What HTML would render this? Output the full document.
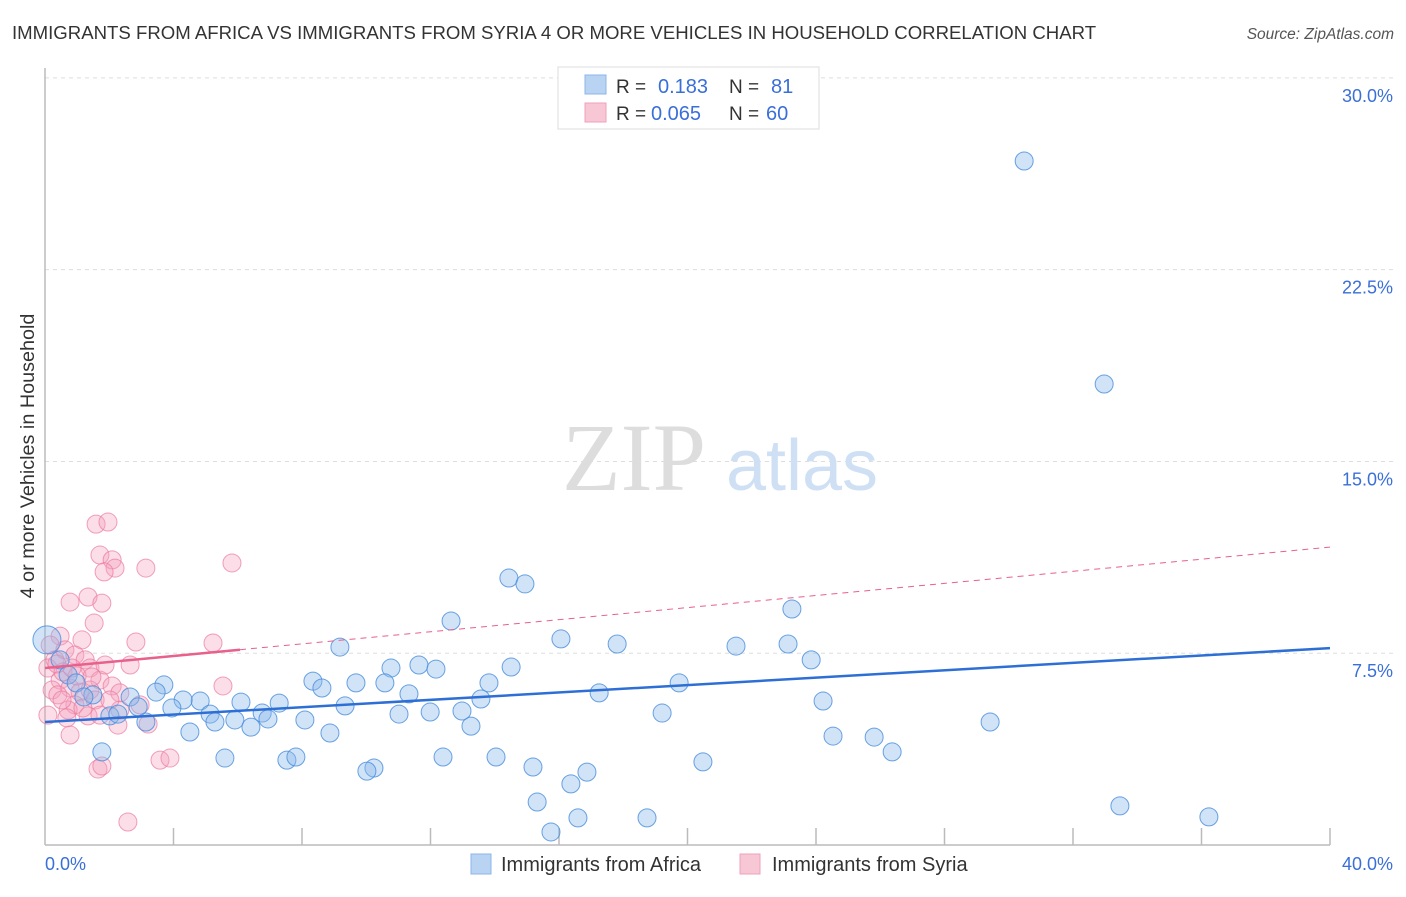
<!DOCTYPE html>
<html><head><meta charset="utf-8"><style>
body{margin:0;background:#fff;font-family:"Liberation Sans",sans-serif;}
svg text{font-family:"Liberation Sans",sans-serif;}
</style></head><body>
<svg id="chart" width="1406" height="892" xmlns="http://www.w3.org/2000/svg">
<text x="12" y="39" font-size="18.6" fill="#333">IMMIGRANTS FROM AFRICA VS IMMIGRANTS FROM SYRIA 4 OR MORE VEHICLES IN HOUSEHOLD CORRELATION CHART</text>
<text x="1394" y="39" font-size="15.5" fill="#555" font-style="italic" text-anchor="end">Source: ZipAtlas.com</text>
<g id="grid"></g>
<g>
<text x="634" y="490" font-size="96" fill="#ddd" style="font-family:'Liberation Serif',serif" text-anchor="middle">ZIP</text>
<text x="802" y="490" font-size="72" fill="#cfe0f5" text-anchor="middle">atlas</text>
</g>
<text transform="translate(34,456) rotate(-90)" font-size="19.8" fill="#333" text-anchor="middle">4 or more Vehicles in Household</text>
<g id="marks"></g>
<g>
<rect x="558" y="67" width="261" height="62" fill="#fff" stroke="#ddd"/>
<rect x="585" y="75" width="21" height="19" fill="#b9d3f3" stroke="#8cb4e8"/>
<rect x="585" y="103" width="21" height="19" fill="#f8c7d6" stroke="#f0a0bb"/>
<text x="616" y="93" font-size="19" fill="#333">R = </text><text x="658" y="93" font-size="20" fill="#3a6fd8">0.183</text>
<text x="729" y="93" font-size="19" fill="#333">N = </text><text x="771" y="93" font-size="20" fill="#3a6fd8">81</text>
<text x="616" y="120" font-size="19" fill="#333">R = </text><text x="651" y="120" font-size="20" fill="#3a6fd8">0.065</text>
<text x="729" y="120" font-size="19" fill="#333">N = </text><text x="766" y="120" font-size="20" fill="#3a6fd8">60</text>
</g>
<g>
<rect x="471" y="854" width="20" height="20" fill="#b9d3f3" stroke="#8cb4e8"/>
<text x="501" y="871" font-size="20" fill="#333">Immigrants from Africa</text>
<rect x="740" y="854" width="20" height="20" fill="#f8c7d6" stroke="#f0a0bb"/>
<text x="772" y="871" font-size="20" fill="#333">Immigrants from Syria</text>
</g>
</svg>
<script>
const yTicks=[7.5,15,22.5,30];
const yTickLabels=["7.5%","15.0%","22.5%","30.0%"];
const xTicks=[0,4,8,12,16,20,24,28,32,36,40];
const africaX=[30.48,32.97,14.44,14.94,23.25,12.64,16.06,17.81,21.51,23.13,9.18,23.85,14.51,11.64,10.77,12.17,8.34,9.68,10.58,13.82,19.74,3.70,8.62,11.33,17.25,3.46,13.57,4.83,6.10,7.29,4.30,2.65,1.49,9.34,24.22,3.95,5.14,6.76,11.99,12.98,11.02,19.21,8.09,5.91,5.29,6.94,3.14,29.42,13.26,4.51,6.41,8.87,24.53,25.81,26.37,1.77,5.60,7.53,7.81,12.39,14.04,20.48,15.19,10.24,10.02,16.87,16.37,15.32,33.46,15.75,16.59,18.74,36.23,0.06,0.47,0.72,0.97,1.21,2.02,2.27,2.90];
const africaY=[26.75,18.03,10.44,10.21,9.23,8.76,8.06,7.86,7.78,7.86,7.74,7.24,6.96,7.04,6.92,6.88,6.41,6.34,6.34,6.34,6.34,6.26,6.14,5.91,5.95,5.98,5.71,5.63,5.59,5.55,5.67,5.79,5.87,5.44,5.63,5.36,5.12,5.16,5.20,5.24,5.12,5.16,4.89,4.89,4.81,4.93,4.81,4.81,4.65,4.42,4.61,4.38,4.26,4.22,3.64,3.64,3.40,3.32,3.44,3.44,3.44,3.25,3.05,3.01,2.89,2.85,2.39,1.68,1.53,0.51,1.06,1.06,1.10,8.02,7.24,6.65,6.34,5.79,5.05,5.12,5.40];
const syriaX=[1.59,1.96,1.71,2.09,2.18,1.84,3.14,5.82,0.78,1.34,1.77,1.53,1.15,2.83,5.23,0.47,0.16,0.31,0.62,0.93,1.25,1.40,1.71,2.09,0.47,0.78,1.09,1.40,1.56,0.93,0.72,0.09,1.34,2.27,3.21,0.09,0.22,0.56,1.87,5.54,2.65,2.33,1.18,0.78,1.65,1.77,3.58,3.89,2.58,2.33,1.00,0.37,0.68,1.71,2.96,2.02,0.40,0.84,1.46,0.53];
const syriaY=[12.55,12.63,11.34,11.15,10.83,10.68,10.83,11.03,9.50,9.70,9.46,8.68,8.02,7.94,7.90,8.17,7.82,7.24,7.63,7.43,7.24,6.92,6.45,6.22,6.45,6.14,5.98,6.06,5.67,5.48,5.28,5.08,5.05,4.69,4.73,6.92,6.06,6.77,7.04,6.22,7.04,5.95,5.36,4.30,2.97,3.09,3.32,3.40,0.90,5.28,6.61,7.08,4.97,5.08,5.48,5.67,5.87,6.92,6.57,5.67];
const africaTrend=[4.81,7.70];
const syriaTrend=[6.92,11.65];
const syriaSolidEnd=6.07;
const X0=45,X1=1330,Y0=845,PXY=25.57;
const sx=v=>X0+(X1-X0)*v/40;
const sy=v=>Y0-v*PXY;
const NS="http://www.w3.org/2000/svg";
function mk(tag,attrs,parent){const e=document.createElementNS(NS,tag);for(const k in attrs)e.setAttribute(k,attrs[k]);parent.appendChild(e);return e;}
const grid=document.getElementById('grid');
yTicks.forEach((t,i)=>{
 const l=mk('line',{x1:X0,x2:1393,y1:sy(t),y2:sy(t),stroke:'#ddd','stroke-dasharray':'4,4'},grid);
 
 
 const tx=mk('text',{x:1393,y:sy(t)+24,'font-size':18,fill:'#3a6fd8','text-anchor':'end'},grid);
 tx.textContent=yTickLabels[i];
 
 
});
const ax=mk('line',{x1:X0,x2:X0,y1:68,y2:Y0,stroke:'#bbb','stroke-width':1.5},grid);


const bx=mk('line',{x1:X0,x2:X1,y1:Y0,y2:Y0,stroke:'#bbb','stroke-width':1.5},grid);


xTicks.slice(1).forEach(t=>{
 const l=mk('line',{x1:sx(t),x2:sx(t),y1:Y0-17,y2:Y0,stroke:'#bbb','stroke-width':1.5},grid);
 
 
});
const xl0=mk('text',{x:X0,y:870,'font-size':18,fill:'#3a6fd8'},grid);xl0.textContent=xTicks[0].toFixed(1)+'%';


const xl1=mk('text',{x:1393,y:870,'font-size':18,fill:'#3a6fd8','text-anchor':'end'},grid);xl1.textContent=xTicks[xTicks.length-1].toFixed(1)+'%';


const marks=document.getElementById('marks');
syriaX.forEach((x,i)=>{
 const c=mk('circle',{cx:sx(x),cy:sy(syriaY[i]),r:9,fill:'rgba(244,160,190,0.35)',stroke:'rgba(236,120,160,0.7)','stroke-width':1},marks);
 
 
});
africaX.forEach((x,i)=>{
 const c=mk('circle',{cx:sx(x),cy:sy(africaY[i]),r:(i===73?14:9),fill:'rgba(140,185,235,0.4)',stroke:'rgba(70,140,220,0.8)','stroke-width':1},marks);
 
 
});
const at=mk('line',{x1:sx(0),y1:sy(africaTrend[0]),x2:sx(40),y2:sy(africaTrend[1]),stroke:'#2e6fd6','stroke-width':2.5},marks);


const sAt=v=>syriaTrend[0]+(syriaTrend[1]-syriaTrend[0])*v/40;
const st=mk('line',{x1:sx(0),y1:sy(syriaTrend[0]),x2:sx(syriaSolidEnd),y2:sy(sAt(syriaSolidEnd)),stroke:'#e8608c','stroke-width':2.5},marks);


const sd=mk('line',{x1:sx(syriaSolidEnd),y1:sy(sAt(syriaSolidEnd)),x2:sx(40),y2:sy(syriaTrend[1]),stroke:'#e8608c','stroke-width':1,'stroke-dasharray':'6,5'},marks);


</script>
</body></html>
